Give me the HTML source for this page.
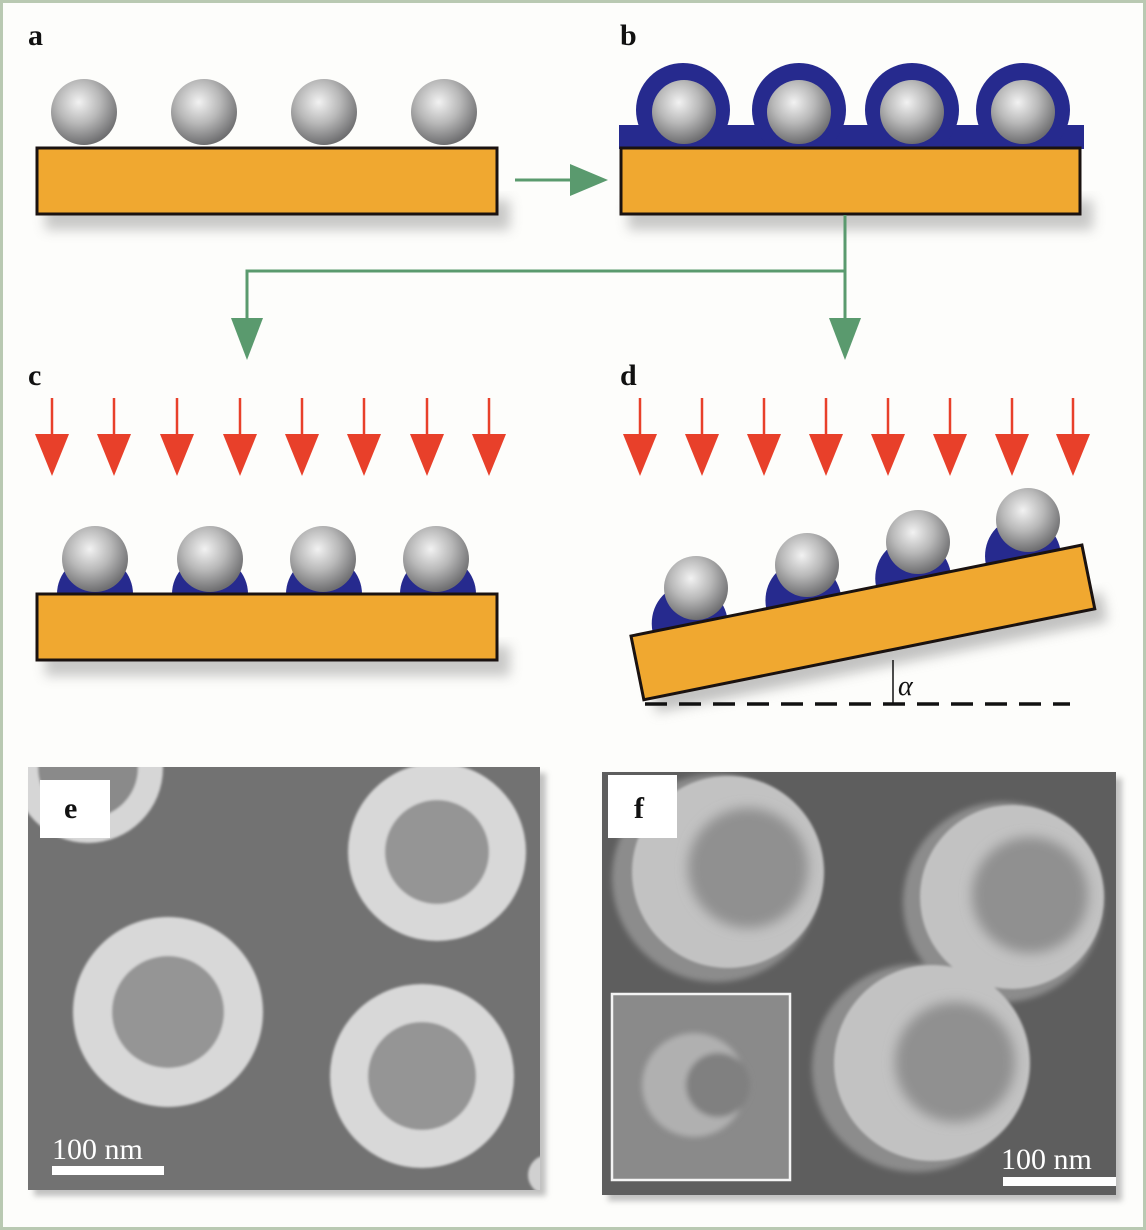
<!DOCTYPE html>
<html><head><meta charset="utf-8"><style>
html,body{margin:0;padding:0;background:#fff}
svg{display:block}
</style></head><body>
<svg width="1146" height="1230" viewBox="0 0 1146 1230" xmlns="http://www.w3.org/2000/svg">
<defs>
<radialGradient id="sph" cx="0.42" cy="0.35" r="0.65">
<stop offset="0" stop-color="#f2f2f2"/><stop offset="0.5" stop-color="#b8b8b8"/><stop offset="1" stop-color="#6e6e70"/>
</radialGradient>
<filter id="sh" x="-10%" y="-30%" width="130%" height="180%"><feGaussianBlur stdDeviation="6"/></filter>
<filter id="bl" x="-20%" y="-20%" width="140%" height="140%"><feGaussianBlur stdDeviation="3"/></filter>
<filter id="bl2" x="-20%" y="-20%" width="140%" height="140%"><feGaussianBlur stdDeviation="6"/></filter>
<filter id="bl1"><feGaussianBlur stdDeviation="1.2"/></filter>
<g id="ra"><line x1="0" y1="0" x2="0" y2="45" stroke="#e8402a" stroke-width="2.5"/><path d="M-17,36 L17,36 L0,78 Z" fill="#e8402a"/></g>
</defs>
<rect x="0" y="0" width="1146" height="1230" fill="#fdfdfb"/>
<rect x="1.5" y="1.5" width="1143" height="1227" fill="none" stroke="#b9c9b2" stroke-width="3"/>

<g font-family="Liberation Serif, serif" font-weight="bold" font-size="30" fill="#111">
<text x="28" y="45">a</text><text x="620" y="45">b</text>
<text x="28" y="385">c</text><text x="620" y="385">d</text>
</g>

<!-- a -->
<rect x="45" y="200" width="465" height="30" fill="#888" opacity="0.45" filter="url(#sh)"/>
<rect x="37" y="148" width="460" height="66" fill="#f0a830" stroke="#1a1210" stroke-width="3"/>
<g fill="url(#sph)"><circle cx="84" cy="112" r="33"/><circle cx="204" cy="112" r="33"/><circle cx="324" cy="112" r="33"/><circle cx="444" cy="112" r="33"/></g>

<!-- arrow a->b -->
<line x1="515" y1="180" x2="575" y2="180" stroke="#5a9a6e" stroke-width="3"/>
<path d="M570,164 L608,180 L570,196 Z" fill="#5a9a6e"/>

<!-- b -->
<rect x="628" y="200" width="465" height="30" fill="#888" opacity="0.45" filter="url(#sh)"/>
<g fill="#262a8e">
<rect x="619" y="125" width="465" height="24"/>
<circle cx="683" cy="110" r="47"/><circle cx="799" cy="110" r="47"/><circle cx="912" cy="110" r="47"/><circle cx="1023" cy="110" r="47"/>
</g>
<rect x="621" y="148" width="459" height="66" fill="#f0a830" stroke="#1a1210" stroke-width="3"/>
<g fill="url(#sph)"><circle cx="684" cy="112" r="32"/><circle cx="799" cy="112" r="32"/><circle cx="912" cy="112" r="32"/><circle cx="1023" cy="112" r="32"/></g>

<!-- green connector -->
<path d="M845,215 V271 H247 V325 M845,271 V325" fill="none" stroke="#5a9a6e" stroke-width="3"/>
<path d="M231,318 L263,318 L247,360 Z" fill="#5a9a6e"/>
<path d="M829,318 L861,318 L845,360 Z" fill="#5a9a6e"/>

<!-- red arrows -->
<g transform="translate(0,398)">
<use href="#ra" x="52"/><use href="#ra" x="114"/><use href="#ra" x="177"/><use href="#ra" x="240"/><use href="#ra" x="302"/><use href="#ra" x="364"/><use href="#ra" x="427"/><use href="#ra" x="489"/>
<use href="#ra" x="640"/><use href="#ra" x="702"/><use href="#ra" x="764"/><use href="#ra" x="826"/><use href="#ra" x="888"/><use href="#ra" x="950"/><use href="#ra" x="1012"/><use href="#ra" x="1073"/>
</g>

<!-- c -->
<rect x="45" y="646" width="465" height="30" fill="#888" opacity="0.45" filter="url(#sh)"/>
<g fill="#262a8e">
<path d="M57,594 A38,38 0 0 1 133,594 Z"/><path d="M172,594 A38,38 0 0 1 248,594 Z"/><path d="M286,594 A38,38 0 0 1 362,594 Z"/><path d="M400,594 A38,38 0 0 1 476,594 Z"/>
</g>
<rect x="37" y="594" width="460" height="66" fill="#f0a830" stroke="#1a1210" stroke-width="3"/>
<g fill="url(#sph)"><circle cx="95" cy="559" r="33"/><circle cx="210" cy="559" r="33"/><circle cx="323" cy="559" r="33"/><circle cx="436" cy="559" r="33"/></g>

<!-- d -->
<g transform="translate(631,636) rotate(-11.4)">
<rect x="10" y="50" width="460" height="30" fill="#888" opacity="0.5" filter="url(#sh)"/>
<g fill="#262a8e">
<path d="M22,0 A38,40 0 0 1 98,0 Z"/><path d="M138,0 A38,40 0 0 1 214,0 Z"/><path d="M250,0 A38,40 0 0 1 326,0 Z"/><path d="M362,0 A38,40 0 0 1 438,0 Z"/>
</g>
<rect x="0" y="0" width="460" height="65" fill="#f0a830" stroke="#1a1210" stroke-width="3"/>
</g>
<g fill="url(#sph)"><circle cx="696" cy="588" r="32"/><circle cx="807" cy="565" r="32"/><circle cx="918" cy="542" r="32"/><circle cx="1028" cy="520" r="32"/></g>
<line x1="645" y1="704" x2="1070" y2="704" stroke="#111" stroke-width="3.5" stroke-dasharray="22,12"/>
<line x1="893" y1="660" x2="893" y2="704" stroke="#111" stroke-width="1.5"/>
<text x="898" y="695" font-family="Liberation Serif, serif" font-style="italic" font-size="28" fill="#111">α</text>

<!-- e -->
<rect x="34" y="773" width="512" height="423" fill="#999" opacity="0.6" filter="url(#bl)"/>
<rect x="28" y="767" width="512" height="423" fill="#727272"/>
<clipPath id="ce"><rect x="28" y="767" width="512" height="423"/></clipPath>
<g clip-path="url(#ce)" filter="url(#bl1)">
<circle cx="88" cy="768" r="75" fill="#d6d6d6"/><circle cx="88" cy="768" r="50" fill="#8a8a8a"/>
<circle cx="437" cy="852" r="89" fill="#d8d8d8"/><circle cx="437" cy="852" r="52" fill="#959595"/>
<circle cx="168" cy="1012" r="95" fill="#d8d8d8"/><circle cx="168" cy="1012" r="56" fill="#959595"/>
<circle cx="422" cy="1076" r="92" fill="#d8d8d8"/><circle cx="422" cy="1076" r="54" fill="#959595"/>
<circle cx="548" cy="1175" r="20" fill="#d0d0d0"/>
</g>
<rect x="40" y="780" width="70" height="58" fill="#fff"/>
<text x="64" y="818" font-family="Liberation Serif, serif" font-weight="bold" font-size="30" fill="#111">e</text>
<rect x="52" y="1166" width="112" height="9" fill="#fff"/>
<text x="52" y="1159" font-family="Liberation Serif, serif" font-size="30" fill="#fff">100 nm</text>

<!-- f -->
<rect x="608" y="778" width="514" height="423" fill="#999" opacity="0.6" filter="url(#bl)"/>
<rect x="602" y="772" width="514" height="423" fill="#5e5e5e"/>
<clipPath id="cf"><rect x="602" y="772" width="514" height="423"/></clipPath>
<g clip-path="url(#cf)">
<g filter="url(#bl)">
<circle cx="716" cy="878" r="104" fill="#8c8c8c"/>
<circle cx="1003" cy="902" r="100" fill="#8c8c8c"/>
<circle cx="916" cy="1068" r="104" fill="#8c8c8c"/>
</g>
<g filter="url(#bl1)">
<circle cx="728" cy="872" r="96" fill="#c2c2c2"/>
<circle cx="1012" cy="897" r="92" fill="#c2c2c2"/>
<circle cx="932" cy="1063" r="98" fill="#c2c2c2"/>
</g>
<g filter="url(#bl2)">
<circle cx="748" cy="868" r="60" fill="#909090"/>
<circle cx="1030" cy="895" r="58" fill="#909090"/>
<circle cx="955" cy="1062" r="60" fill="#909090"/>
</g>
<rect x="612" y="994" width="178" height="186" fill="#8a8a8a" stroke="#f4f4f4" stroke-width="2.5"/>
<g filter="url(#bl)">
<circle cx="694" cy="1085" r="52" fill="#b0b0b0"/><circle cx="718" cy="1085" r="32" fill="#808080"/>
</g>
</g>
<rect x="608" y="775" width="69" height="63" fill="#fff"/>
<text x="634" y="818" font-family="Liberation Serif, serif" font-weight="bold" font-size="30" fill="#111">f</text>
<rect x="1003" y="1177" width="113" height="9" fill="#fff"/>
<text x="1001" y="1169" font-family="Liberation Serif, serif" font-size="30" fill="#fff">100 nm</text>
</svg>
</body></html>
